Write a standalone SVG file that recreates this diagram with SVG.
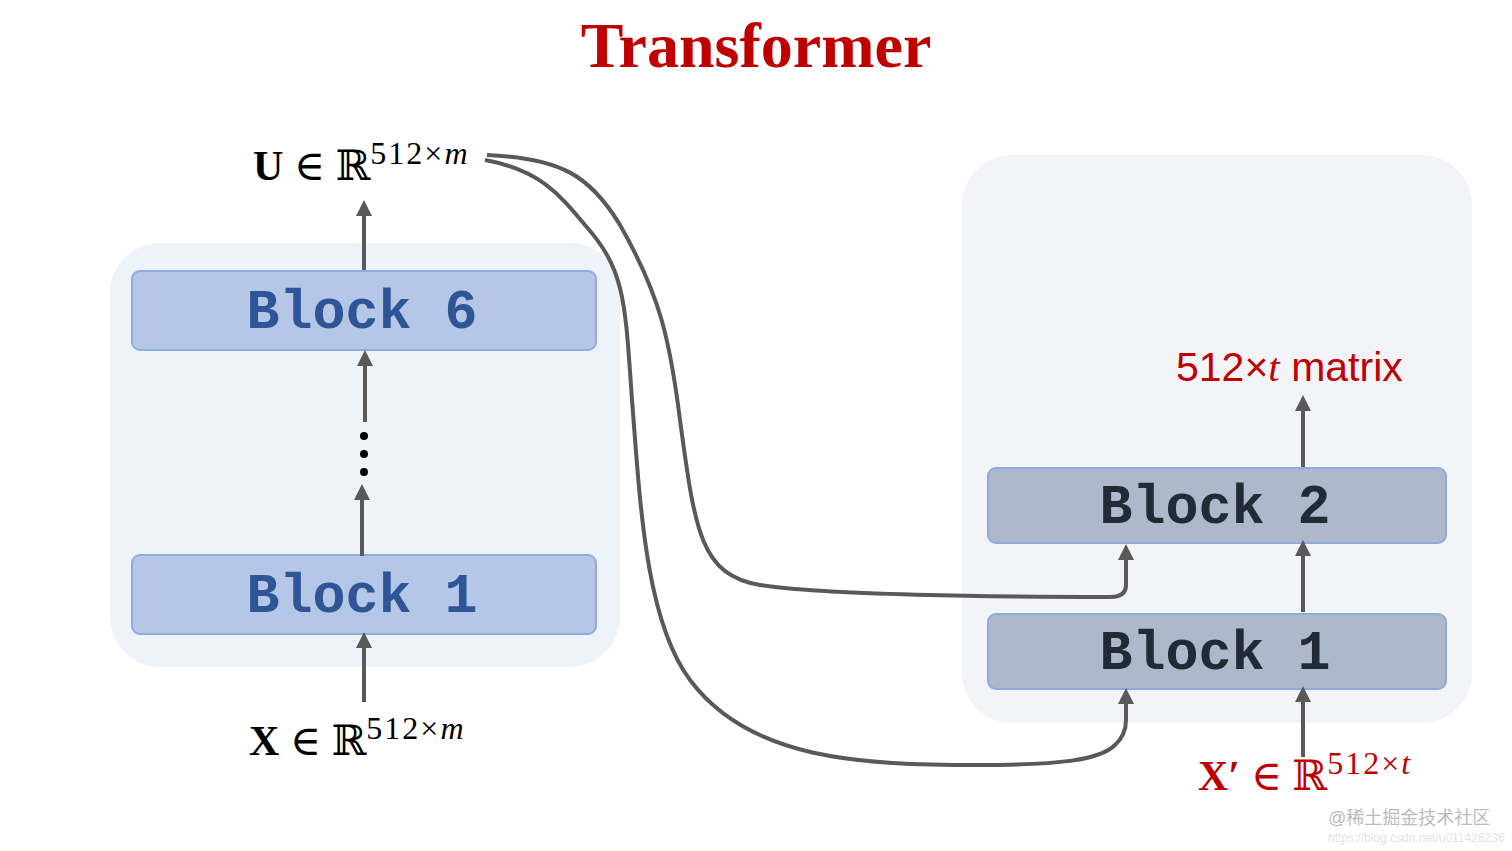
<svg xmlns="http://www.w3.org/2000/svg" width="1512" height="851" viewBox="0 0 1512 851">
<defs>
<style>
.blk{font-family:"Liberation Mono",monospace;font-weight:bold;font-size:55px;text-anchor:middle}
.math{font-family:"Liberation Serif","DejaVu Serif",serif;font-size:42px}
.sup{font-size:32px;letter-spacing:2px}
.ln{stroke:#595959;stroke-width:4;fill:none}
</style>
<marker id="ah" viewBox="0 0 10 10" refX="5" refY="5" markerWidth="4" markerHeight="4" orient="auto"><path d="M0,0L10,5L0,10z" fill="#595959"/></marker>
</defs>
<rect width="1512" height="851" fill="#fff"/>
<text x="756" y="67" font-family="Liberation Serif,serif" font-weight="bold" font-size="64" fill="#c00000" text-anchor="middle">Transformer</text>
<g id="encoder"><rect x="110" y="243" width="510" height="424" rx="50" fill="#eef3fa"/></g>
<g id="decoder"><rect x="962" y="155" width="510" height="568" rx="50" fill="#f2f4f7"/></g>
<g id="enc-block6"><rect x="132" y="271" width="464" height="79" rx="8" fill="#b4c7e7" stroke="#8faadc" stroke-width="2"/><text class="blk" x="362" y="328" fill="#2f5597">Block 6</text></g>
<g id="enc-block1"><rect x="132" y="555" width="464" height="79" rx="8" fill="#b4c7e7" stroke="#8faadc" stroke-width="2"/><text class="blk" x="362" y="612" fill="#2f5597">Block 1</text></g>
<g id="dec-block2"><rect x="988" y="468" width="458" height="75" rx="8" fill="#adb9ca" stroke="#8faadc" stroke-width="2"/><text class="blk" x="1215" y="523" fill="#222a35">Block 2</text></g>
<g id="dec-block1"><rect x="988" y="614" width="458" height="75" rx="8" fill="#adb9ca" stroke="#8faadc" stroke-width="2"/><text class="blk" x="1215" y="669" fill="#222a35">Block 1</text></g>
<g id="dots" fill="#000"><circle cx="364" cy="436" r="4"/><circle cx="364" cy="454" r="4"/><circle cx="364" cy="472" r="4"/></g>
<g id="labels">
<text class="math" x="253" y="180"><tspan font-weight="bold">U</tspan> ∈ ℝ<tspan class="sup" dy="-16">512×<tspan font-style="italic">m</tspan></tspan></text>
<text class="math" x="249" y="755"><tspan font-weight="bold">X</tspan> ∈ ℝ<tspan class="sup" dy="-16">512×<tspan font-style="italic">m</tspan></tspan></text>
<text class="math" x="1198" y="790" fill="#c00000"><tspan font-weight="bold">X′</tspan> ∈ ℝ<tspan class="sup" dy="-16">512×<tspan font-style="italic">t</tspan></tspan></text>
<text x="1176" y="381" font-family="Liberation Sans,sans-serif" font-size="41" fill="#c00000">512×<tspan font-family="Liberation Serif,serif" font-style="italic">t</tspan> matrix</text>
<text x="1328" y="824" font-family="Liberation Sans,'Noto Sans CJK SC',sans-serif" font-size="18" fill="#bbb">@稀土掘金技术社区</text>
<text x="1328" y="842" font-family="Liberation Sans,sans-serif" font-size="12" fill="#e2e2e2">https://blog.csdn.net/u011426236</text>
</g>
<g id="connectors">
<path class="ln" d="M364,702V640" marker-end="url(#ah)"/>
<path class="ln" d="M362,556V492" marker-end="url(#ah)"/>
<path class="ln" d="M365,422V358" marker-end="url(#ah)"/>
<path class="ln" d="M364,270V208" marker-end="url(#ah)"/>
<path class="ln" d="M1303,757V694" marker-end="url(#ah)"/>
<path class="ln" d="M1303,612V548" marker-end="url(#ah)"/>
<path class="ln" d="M1303,467V403" marker-end="url(#ah)"/>
<path class="ln" d="M487,155C560,158 590,175 620,225C660,295 670,340 680,420C695,530 700,575 760,585C820,595 1000,597 1110,597Q1126,597 1126,585V552" marker-end="url(#ah)"/>
<path class="ln" d="M485,160C540,170 560,195 585,225C625,270 625,300 632,400C640,500 645,620 690,680C750,760 860,765 980,765C1060,765 1100,760 1115,745Q1126,735 1126,720V696" marker-end="url(#ah)"/>
</g>
</svg>
